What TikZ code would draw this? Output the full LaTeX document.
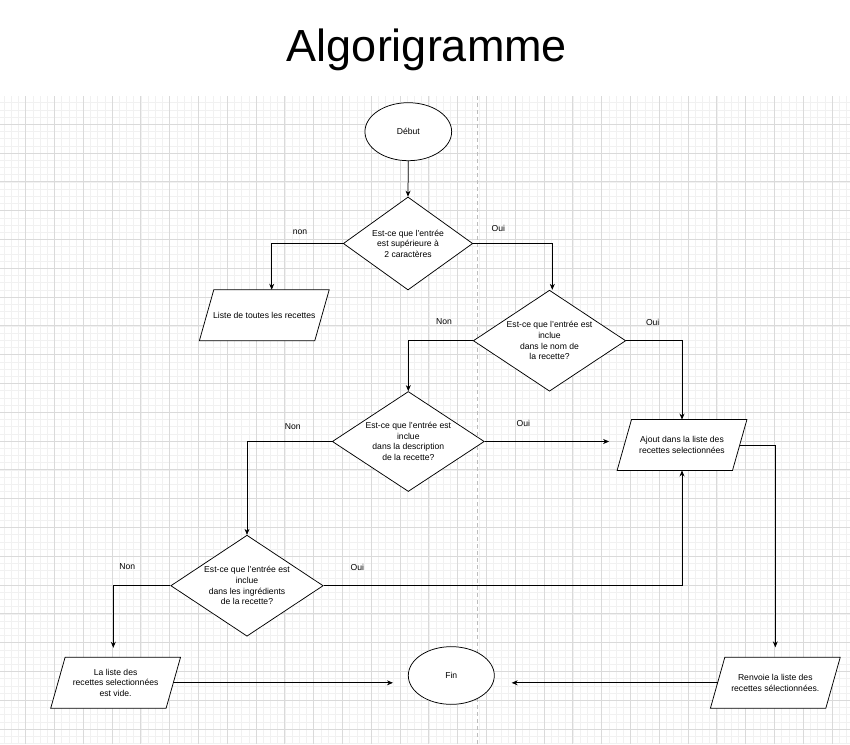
\documentclass[tikz,border=0pt]{standalone}
\usepackage{fontspec}
\setmainfont{Liberation Sans}
\usetikzlibrary{shapes.geometric,arrows.meta}
\definecolor{gminor}{HTML}{F1F1F1}
\definecolor{gmajor}{HTML}{DADADA}
\definecolor{gdash}{HTML}{BDBDBD}
\tikzset{
  minorline/.style={draw=gminor,line width=0.7pt},
  majorline/.style={draw=gmajor,line width=0.85pt},
  sep/.style={draw=gdash,line width=0.9pt,dash pattern=on 4pt off 3pt},
  flowtxt/.style={font=\fontsize{8.6}{10.6}\selectfont,align=center,inner sep=0pt},
  lbl/.style={font=\fontsize{8.6}{10.6}\selectfont,inner sep=0pt},
  term/.style={ellipse,draw,fill=white,line width=0.75pt,inner sep=0pt},
  dec/.style={diamond,draw,fill=white,line width=0.75pt,inner sep=0pt,minimum width=152.4pt,minimum height=101pt},
  parabox/.style={rectangle,inner sep=0pt,minimum width=129.4pt,minimum height=50.5pt,
    font=\fontsize{8.6}{10.6}\selectfont,align=center},
  paraline/.style={draw,fill=white,line width=0.75pt,line join=miter},
  arr/.style={draw,line width=0.75pt,-{Stealth[length=6pt,width=5pt]}}
}
\newcommand{\drawpara}[1]{%
  \path[paraline] (#1.south west) -- ([xshift=14.4pt]#1.north west) -- (#1.north east) -- ([xshift=-14.4pt]#1.south east) -- cycle;}
\begin{document}
\begin{tikzpicture}[x=1pt,y=-1pt]
\useasboundingbox (0,0) rectangle (850,744);
% grid
\begin{scope}
\clip (0,96) rectangle (850,744);
\foreach \i in {0,...,117} {\draw[minorline] ({4.1+7.2*\i},96) -- ({4.1+7.2*\i},744);}
\foreach \j in {0,...,90} {\draw[minorline] (0,{95.5+7.2*\j}) -- (850,{95.5+7.2*\j});}
\foreach \i in {0,...,28} {\draw[majorline] ({25.7+28.8*\i},96) -- ({25.7+28.8*\i},744);}
\foreach \j in {0,...,21} {\draw[majorline] (0,{124.3+28.8*\j}) -- (850,{124.3+28.8*\j});}
\end{scope}
\coordinate (septop) at (477.3,96);
\coordinate (sepbot) at (477.3,744);
\draw[sep] (septop) -- (sepbot);
% title
\node[font=\fontsize{45}{54}\selectfont,anchor=base,inner sep=0pt] (title) at (427,61.5) {Algorigramme};
% shapes
\node[term,minimum width=86.7pt,minimum height=58pt] (debut) at (408.3,131.7) {};
\node[flowtxt] (tdebut) at (debut) {Début};
\node[dec,minimum width=129.4pt,minimum height=93pt] (d1) at (408,243.5) {};
\node[flowtxt] (td1) at (d1) {Est-ce que l'entrée\\est supérieure à\\2 caractères};
\node[parabox] (p1) at (264.3,315.2) {};
\drawpara{p1}
\node[flowtxt] (tp1) at (p1) {Liste de toutes les recettes};
\node[dec] (d2) at (549.5,340.7) {};
\node[flowtxt] (td2) at (d2) {Est-ce que l'entrée est\\inclue\\dans le nom de\\la recette?};
\node[dec,minimum width=152pt,minimum height=100pt] (d3) at (408.3,441.5) {};
\node[flowtxt] (td3) at (d3) {Est-ce que l'entrée est\\inclue\\dans la description\\de la recette?};
\node[parabox] (pA) at (682,445) {};
\drawpara{pA}
\node[flowtxt] (tpA) at (pA) {Ajout dans la liste des\\recettes selectionnées};
\node[dec] (d4) at (247,585.7) {};
\node[flowtxt] (td4) at (d4) {Est-ce que l'entrée est\\inclue\\dans les ingrédients\\de la recette?};
\node[parabox] (pV) at (115.6,682.8) {};
\drawpara{pV}
\node[flowtxt] (tpV) at (pV) {La liste des\\recettes selectionnées\\est vide.};
\node[term,minimum width=86pt,minimum height=57.7pt] (fin) at (451.3,675.5) {};
\node[flowtxt] (tfin) at (fin) {Fin};
\node[parabox] (pR) at (775.3,682.8) {};
\drawpara{pR}
\node[flowtxt] (tpR) at (pR) {Renvoie la liste des\\recettes sélectionnées.};
% connectors
\draw[arr] (debut.south) -- (d1.north);
\draw[arr] (d1.west) -| ([xshift=7.4pt]p1.north);
\draw[arr] (d1.east) -| ([xshift=2.8pt]d2.north);
\draw[arr] (d2.west) -| (d3.north);
\draw[arr] (d2.east) -| (pA.north);
\draw[arr,shorten >=8pt] (d3.east) -- (d3.east -| pA.west);
\draw[arr] (d3.west) -| (d4.north);
\draw[arr] (d4.east) -| (pA.south);
\draw[arr,shorten >=10pt] ([xshift=-7.2pt]pA.east) -| (pR.north);
\draw[arr,shorten >=9.6pt] (d4.west) -| ([xshift=-2.3pt]pV.north);
\draw[arr,shorten >=15pt] ([xshift=-7.2pt]pV.east) -- (pV.east -| fin.west);
\draw[arr,shorten >=17pt] ([xshift=7.2pt]pR.west) -- (pR.west -| fin.east);
% labels
\node[lbl] (l1) at (300,232.7) {non};
\node[lbl] (l2) at (498.3,228.3) {Oui};
\node[lbl] (l3) at (444,322) {Non};
\node[lbl] (l4) at (652.7,322) {Oui};
\node[lbl] (l5) at (292.7,426.7) {Non};
\node[lbl] (l6) at (523.3,423) {Oui};
\node[lbl] (l7) at (127.3,567) {Non};
\node[lbl] (l8) at (357.3,567) {Oui};
\end{tikzpicture}
\end{document}
